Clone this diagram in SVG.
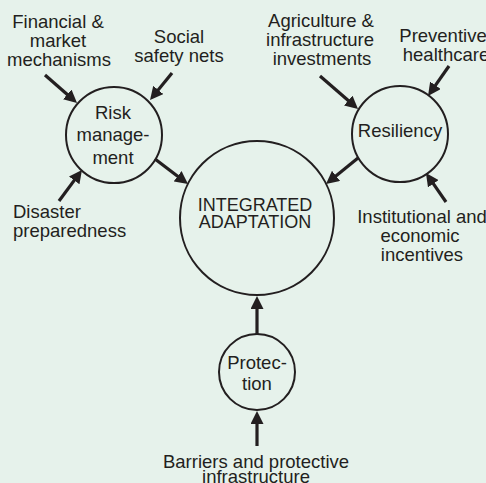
<svg xmlns="http://www.w3.org/2000/svg" width="486" height="483" viewBox="0 0 486 483">
<defs>
<style>
.bg{fill:#e6f2eb}
.node{fill:none;stroke:#231f20;stroke-width:2}
.t{font-family:"Liberation Sans",Arial,Helvetica,sans-serif;font-size:18.5px;fill:#231f20;text-anchor:middle}
.tl{text-anchor:start}
.ia{font-size:18px}
.c line{stroke:#231f20;stroke-width:3.2;marker-end:url(#ah)}
</style>
<marker id="ah" markerUnits="userSpaceOnUse" markerWidth="14" markerHeight="13" refX="5" refY="6.5" orient="auto">
<path d="M0,0 L13,6.5 L0,13 z" fill="#231f20"/>
</marker>
</defs>
<rect class="bg" x="0" y="0" width="486" height="483"/>

<g id="risk">
<circle class="node" cx="114" cy="135" r="48"/>
<text class="t" x="113" y="119">Risk</text>
<text class="t" x="113" y="141">manage-</text>
<text class="t" x="113" y="164">ment</text>
</g>
<g id="integrated">
<circle class="node" cx="257" cy="218" r="77"/>
<text class="t ia" x="255" y="211">INTEGRATED</text>
<text class="t ia" x="255" y="228">ADAPTATION</text>
</g>
<g id="resiliency">
<circle class="node" cx="400" cy="134" r="48"/>
<text class="t" x="400" y="137">Resiliency</text>
</g>
<g id="protection">
<circle class="node" cx="257" cy="372" r="38"/>
<text class="t" x="257" y="369">Protec-</text>
<text class="t" x="257" y="390">tion</text>
</g>
<g id="financial">
<text class="t" x="58" y="28">Financial &amp;</text>
<text class="t" x="58" y="47">market</text>
<text class="t" x="59" y="66">mechanisms</text>
</g>
<g id="social">
<text class="t" x="179" y="43">Social</text>
<text class="t" x="179" y="62">safety nets</text>
</g>
<g id="disaster">
<text class="t tl" x="13" y="218">Disaster</text>
<text class="t tl" x="13" y="237">preparedness</text>
</g>
<g id="agriculture">
<text class="t" x="321" y="27">Agriculture &amp;</text>
<text class="t" x="320" y="46">infrastructure</text>
<text class="t" x="322" y="65">investments</text>
</g>
<g id="preventive">
<text class="t" x="443" y="42">Preventive</text>
<text class="t" x="446" y="61">healthcare</text>
</g>
<g id="institutional">
<text class="t" x="422" y="223">Institutional and</text>
<text class="t" x="420" y="242">economic</text>
<text class="t" x="422" y="261">incentives</text>
</g>
<g id="barriers">
<text class="t" x="256" y="468">Barriers and protective</text>
<text class="t" x="256" y="482.5">infrastructure</text>
</g>

<g id="connectors" class="c">
<line x1="45" y1="75" x2="71" y2="97.7"/>
<line x1="172" y1="73" x2="155.1" y2="93.8"/>
<line x1="59" y1="201" x2="77.2" y2="176.4"/>
<line x1="155" y1="159" x2="181.6" y2="179.2"/>
<line x1="320" y1="76" x2="352" y2="103.8"/>
<line x1="449" y1="66" x2="432.6" y2="89.4"/>
<line x1="446" y1="202" x2="430.5" y2="179.6"/>
<line x1="358" y1="158" x2="332.2" y2="179"/>
<line x1="257" y1="334" x2="257" y2="304"/>
<line x1="257" y1="446" x2="257" y2="419"/>
</g>
</svg>
